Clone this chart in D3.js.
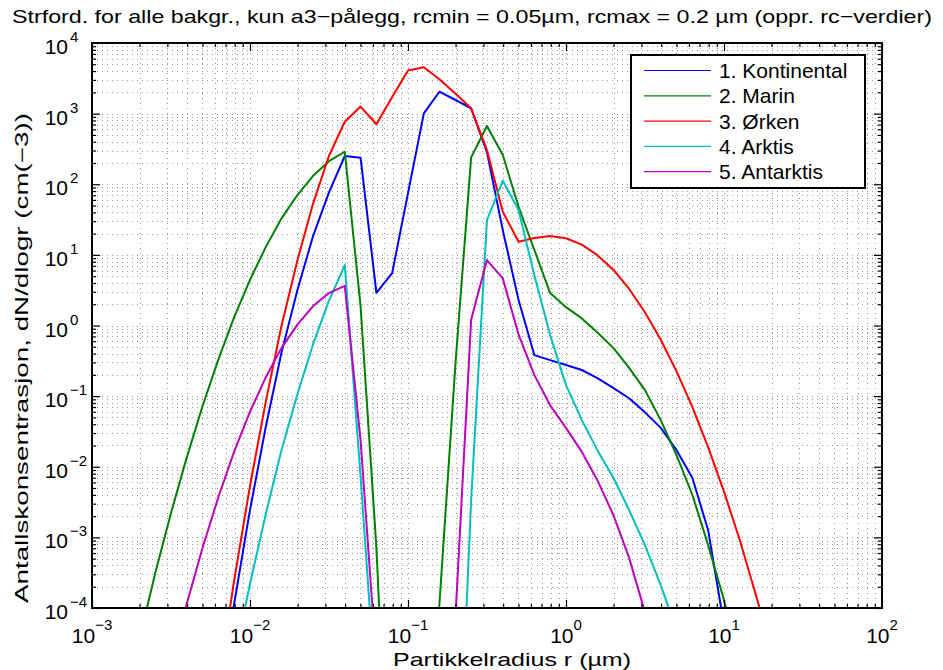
<!DOCTYPE html>
<html>
<head>
<meta charset="utf-8">
<script src="https://cdn.jsdelivr.net/npm/d3@7"></script>
<style>
body { margin: 0; background: #fff; }
text { font-family: "Liberation Sans", Arial, sans-serif; fill: #000; }
</style>
</head>
<body>
<div id="chart"></div>
<script>

// particle radius (µm), 10 points per decade
var radius = [0.00158, 0.002, 0.00251, 0.00316, 0.00398, 0.00501, 0.00631, 0.00794,
    0.01, 0.0126, 0.0158, 0.02, 0.0251, 0.0316, 0.0398, 0.0501, 0.0631, 0.0794,
    0.1, 0.126, 0.158, 0.2, 0.251, 0.316, 0.398, 0.501, 0.631, 0.794,
    1, 1.26, 1.58, 2, 2.51, 3.16, 3.98, 5.01, 6.31, 7.94, 10, 12.6, 15.8, 20];

// log10(dN/dlogr), one value per radius
var kontinental = [-9, -9, -9, -9, -9, -7.5, -5.4, -3.94, -2.61, -1.43, -0.39, 0.51, 1.27, 1.884,
    2.4, 2.376, 0.463, 0.742, 1.875, 3.004, 3.31, 3.193, 3.075, 2.456, 1.351, 0.36, -0.42, -0.49,
    -0.56, -0.63, -0.745, -0.887, -1.03, -1.23, -1.45, -1.765, -2.16, -2.9, -4.24, -6, -8, -9];
var marin = [-5.42, -4.435, -3.513, -2.657, -1.867, -1.14, -0.479, 0.118, 0.647, 1.113, 1.514, 1.851, 2.12, 2.326,
    2.46, 0.275, -3.15, -8, -9, -9, -3.95, -0.52, 2.381, 2.824, 2.414, 1.681, 1.068, 0.459,
    0.26, 0.1, -0.1, -0.32, -0.6, -0.915, -1.34, -1.84, -2.4, -3.11, -3.89, -4.81, -6, -7];
var orken = [-9, -9, -9, -9, -9, -7, -5.07, -3.61, -2.27, -1.07, -0.01, 0.93, 1.73, 2.4,
    2.885, 3.10, 2.85, 3.235, 3.61, 3.656, 3.486, 3.28, 3.075, 2.484, 1.61, 1.185, 1.238, 1.266,
    1.235, 1.146, 0.996, 0.786, 0.517, 0.187, -0.201, -0.65, -1.157, -1.725, -2.353, -3.04, -3.79, -4.59];
var arktis = [-9, -9, -9, -9, -9, -7.2, -5.925, -4.744, -3.657, -2.666, -1.769, -0.967, -0.261, 0.353,
    0.856, -2.14, -5.37, -9, -9, -9, -9, -7.6, -2.47, 1.493, 2.05, 1.635, 0.707, -0.136,
    -0.844, -1.34, -1.765, -2.16, -2.615, -3.11, -3.68, -4.31, -5.5, -7, -8, -9, -9, -9];
var antarktis = [-9, -9, -9, -4.81, -3.94, -3.146, -2.428, -1.786, -1.221, -0.732, -0.32, 0.016, 0.275, 0.459,
    0.562, -1.623, -4.78, -9, -9, -9, -9, -4.1, 0.08, 0.926, 0.667, -0.13, -0.703, -1.13,
    -1.45, -1.79, -2.19, -2.69, -3.29, -4.06, -5.0, -7, -8, -9, -9, -9, -9, -9];

var seriesNames = ["1. Kontinental", "2. Marin", "3. \u00D8rken", "4. Arktis", "5. Antarktis"];
var seriesData = [kontinental, marin, orken, arktis, antarktis];
var colors = ["#0000ff", "#008000", "#ff0000", "#00bfbf", "#bf00bf"];

var xTickExp = [-3, -2, -1, 0, 1, 2];
var yTickExp = [-4, -3, -2, -1, 0, 1, 2, 3, 4];

var titleText = "Strford. for alle bakgr., kun a3\u2212p\u00E5legg, rcmin = 0.05\u00B5m, rcmax = 0.2 \u00B5m (oppr. rc\u2212verdier)";
var xLabel = "Partikkelradius r (\u00B5m)";
var yLabel = "Antallskonsentrasjon, dN/dlogr (cm(\u22123))";

// set the dimensions and margins of the graph
var margin = {top: 43, right: 61, bottom: 62, left: 92},
    width = 943 - margin.left - margin.right,
    height = 670 - margin.top - margin.bottom;

var svg = d3.select("#chart")
    .append("svg")
    .attr("width", 943)
    .attr("height", 670);

var g = svg.append("g")
    .attr("transform", "translate(" + margin.left + "," + margin.top + ")");

var x = d3.scaleLog().domain([1e-3, 1e2]).range([0, width]);
var y = d3.scaleLog().domain([1e-4, 1e4]).range([height, 0]);

// major and minor tick values
var xMajor = xTickExp.map(function(e) { return Math.pow(10, e); });
var yMajor = yTickExp.map(function(e) { return Math.pow(10, e); });
var xMinor = [], yMinor = [];
xTickExp.slice(0, -1).forEach(function(e) {
    for (var m = 2; m <= 9; m++) xMinor.push(m * Math.pow(10, e));
});
yTickExp.slice(0, -1).forEach(function(e) {
    for (var m = 2; m <= 9; m++) yMinor.push(m * Math.pow(10, e));
});

// dotted grid
var grid = g.append("g").attr("class", "grid")
    .attr("stroke", "#000")
    .attr("stroke-width", 1)
    .attr("stroke-dasharray", "1,4")
    .attr("opacity", 0.4);
grid.selectAll("line.gx")
    .data(xMajor.concat(xMinor))
    .enter().append("line")
    .attr("x1", function(d) { return Math.round(x(d)) + 0.5; })
    .attr("x2", function(d) { return Math.round(x(d)) + 0.5; })
    .attr("y1", 0).attr("y2", height);
grid.selectAll("line.gy")
    .data(yMajor.concat(yMinor))
    .enter().append("line")
    .attr("y1", function(d) { return Math.round(y(d)) + 0.5; })
    .attr("y2", function(d) { return Math.round(y(d)) + 0.5; })
    .attr("x1", 0).attr("x2", width);

// the curves
g.append("clipPath").attr("id", "plotclip")
    .append("rect").attr("width", width).attr("height", height);

var line = d3.line()
    .x(function(d) { return x(d.r); })
    .y(function(d) { return y(d.v); });

seriesData.forEach(function(vals, i) {
    var pts = radius.map(function(r, j) { return {r: r, v: Math.pow(10, vals[j])}; });
    g.append("path")
        .datum(pts)
        .attr("clip-path", "url(#plotclip)")
        .attr("fill", "none")
        .attr("stroke", colors[i])
        .attr("stroke-width", 2)
        .attr("stroke-linejoin", "round")
        .attr("d", line);
});

// ticks on all four sides, pointing in
function tickAxis(axisFn, scale, vals, size, tr) {
    var a = g.append("g")
        .attr("transform", tr)
        .call(axisFn(scale).tickValues(vals).tickSizeInner(-size).tickSizeOuter(0).tickFormat(""));
    a.select(".domain").remove();
    a.selectAll("line").attr("stroke", "#000").attr("stroke-width", 1.2);
}
tickAxis(d3.axisBottom, x, xMajor, 8, "translate(0," + height + ")");
tickAxis(d3.axisBottom, x, xMinor, 4, "translate(0," + height + ")");
tickAxis(d3.axisTop, x, xMajor, 8, "translate(0,0)");
tickAxis(d3.axisTop, x, xMinor, 4, "translate(0,0)");
tickAxis(d3.axisLeft, y, yMajor, 8, "translate(0,0)");
tickAxis(d3.axisLeft, y, yMinor, 4, "translate(0,0)");
tickAxis(d3.axisRight, y, yMajor, 8, "translate(" + width + ",0)");
tickAxis(d3.axisRight, y, yMinor, 4, "translate(" + width + ",0)");

// box
g.append("rect")
    .attr("width", width).attr("height", height)
    .attr("fill", "none").attr("stroke", "#000").attr("stroke-width", 2);

// tick labels: 10 with a raised exponent
function expText(e) { return e < 0 ? "\u2212" + Math.abs(e) : String(e); }

var xl = g.selectAll("text.xtick")
    .data(xTickExp)
    .enter().append("text")
    .attr("class", "xtick")
    .attr("x", function(e) { return x(Math.pow(10, e)); })
    .attr("y", height + 35)
    .attr("text-anchor", "middle")
    .style("font-size", "21px");
xl.append("tspan").text("10");
xl.append("tspan").attr("dy", -13).style("font-size", "15px").text(function(e) { return expText(e); });

g.selectAll("text.ytick10")
    .data(yTickExp)
    .enter().append("text")
    .attr("x", -24)
    .attr("y", function(e) { return y(Math.pow(10, e)) + 11; })
    .attr("text-anchor", "end")
    .style("font-size", "21px")
    .text("10");
g.selectAll("text.yexp")
    .data(yTickExp)
    .enter().append("text")
    .attr("x", -22)
    .attr("y", function(e) { return y(Math.pow(10, e)) - 1; })
    .attr("text-anchor", "start")
    .style("font-size", "15px")
    .text(function(e) { return expText(e); });

// title and axis labels
svg.append("text")
    .attr("x", 472).attr("y", 23)
    .attr("text-anchor", "middle")
    .attr("textLength", 920).attr("lengthAdjust", "spacingAndGlyphs")
    .style("font-size", "19px")
    .text(titleText);

svg.append("text")
    .attr("x", 512).attr("y", 666)
    .attr("text-anchor", "middle")
    .attr("textLength", 238).attr("lengthAdjust", "spacingAndGlyphs")
    .style("font-size", "19px")
    .text(xLabel);

svg.append("text")
    .attr("transform", "translate(28,358) rotate(-90)")
    .attr("text-anchor", "middle")
    .attr("textLength", 490).attr("lengthAdjust", "spacingAndGlyphs")
    .style("font-size", "18px")
    .text(yLabel);

// legend
var lg = svg.append("g").attr("transform", "translate(631,55)");
lg.append("rect")
    .attr("width", 234).attr("height", 133)
    .attr("fill", "#fff").attr("stroke", "#000").attr("stroke-width", 2);
var items = lg.selectAll("g.item")
    .data(seriesNames)
    .enter().append("g")
    .attr("transform", function(d, i) { return "translate(0," + (15.5 + i * 25.3) + ")"; });
items.append("line")
    .attr("x1", 13).attr("x2", 80)
    .attr("stroke", function(d, i) { return colors[i]; })
    .attr("stroke-width", 1.2);
items.append("text")
    .attr("x", 88).attr("y", 7.5)
    .style("font-size", "21px")
    .text(function(d) { return d; });

</script>
</body>
</html>
